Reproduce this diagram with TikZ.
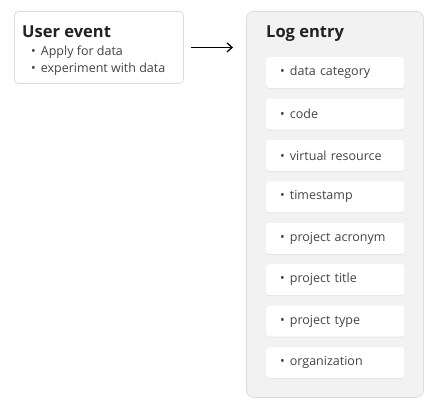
\documentclass[tikz,border=0pt]{standalone}
\usepackage{fontspec}
\usepackage{graphicx}
\setmainfont{Open Sans}
\usetikzlibrary{positioning,arrows.meta,shadows}

\definecolor{panelgray}{HTML}{F2F2F2}
\definecolor{linegray}{HTML}{DCDCDC}
\definecolor{textdark}{HTML}{222222}
\definecolor{textgray}{HTML}{444444}

\newcommand{\dotitem}{\textbullet\hspace{5pt}}

\tikzset{
  box/.style={draw=linegray, line width=0.8pt, rounded corners=4pt, fill=white},
  panel/.style={draw=linegray, line width=0.8pt, rounded corners=7pt, fill=panelgray},
  card/.style={fill=white, rounded corners=3pt, minimum width=138pt, minimum height=31pt,
    text width=110pt, inner xsep=14pt, align=left, text=textgray,
    font=\fontsize{12.5}{15}\selectfont,
    drop shadow={opacity=0.12, shadow xshift=0pt, shadow yshift=-1pt}},
  heading/.style={anchor=base west, inner sep=0pt, text=textdark,
    font=\bfseries\fontsize{16.5}{20}\selectfont},
  bullet/.style={anchor=base west, inner sep=0pt, text=textgray,
    font=\fontsize{12.5}{15}\selectfont},
}

\begin{document}
\begin{tikzpicture}[x=1pt, y=-1pt, node distance=10pt]
  \useasboundingbox (0,0) rectangle (448,410);

  % user event box
  \node[box, minimum width=169pt, minimum height=72pt, anchor=north west] (event) at (14,11) {};
  \node[heading] (eventtitle) at (22,37) {User event};
  \node[bullet] (apply) at (31,55) {\dotitem Apply for data};
  \node[bullet] (experiment) at (31,72) {\dotitem experiment with data};

  % log entry panel
  \node[panel, minimum width=177pt, minimum height=386pt, anchor=north west] (log) at (246,11) {};
  \node[heading] (logtitle) at (266,37) {Log entry};

  \node[card, anchor=north west] (category) at (266,57) {\dotitem data category};
  \node[card, below=of category] (code) {\dotitem code};
  \node[card, below=of code] (resource) {\dotitem virtual resource};
  \node[card, below=of resource] (timestamp) {\dotitem timestamp};
  \node[card, below=of timestamp] (acronym) {\dotitem project acronym};
  \node[card, below=of acronym] (title) {\dotitem project title};
  \node[card, below=of title] (type) {\dotitem project type};
  \node[card, below=of type] (org) {\dotitem organization};

  \draw[-{Straight Barb[length=5pt, width=9pt]}, line width=1.3pt, shorten <=7pt, shorten >=13pt]
    (event) -- (log.west |- event);
\end{tikzpicture}
\end{document}
